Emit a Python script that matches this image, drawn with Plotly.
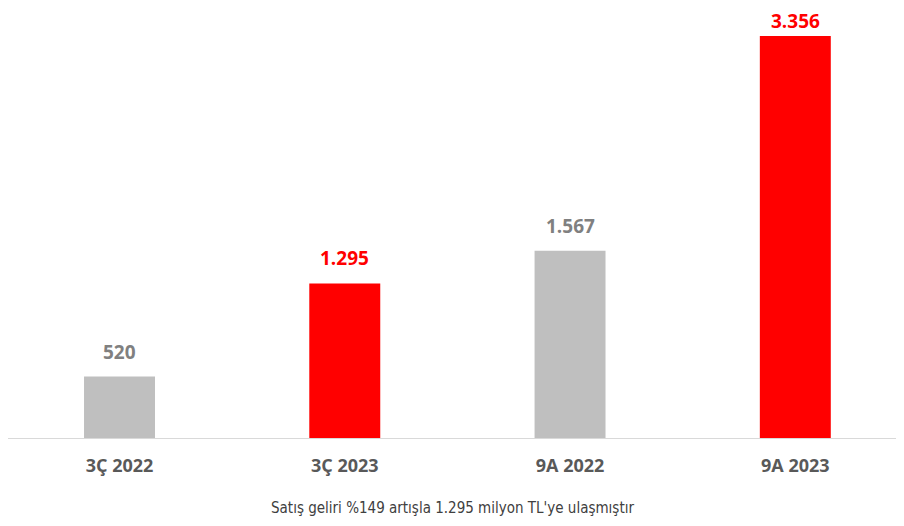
import plotly.graph_objects as go

categories = ["3Ç 2022", "3Ç 2023", "9A 2022", "9A 2023"]
values = [520, 1295, 1567, 3356]
value_labels = ["520", "1.295", "1.567", "3.356"]
bar_colors = ["#bfbfbf", "#ff0000", "#bfbfbf", "#ff0000"]
label_colors = ["#808080", "#ff0000", "#808080", "#ff0000"]
caption = "Satış geliri %149 artışla 1.295 milyon TL'ye ulaşmıştır"

FONT = "Open Sans, Liberation Sans, sans-serif"
xs = list(range(len(categories)))

fig = go.Figure()
fig.add_trace(go.Bar(
    x=xs, y=values,
    marker=dict(color=bar_colors, line=dict(width=0)),
    width=0.315,
    hoverinfo="skip",
))

annotations = []
for x, v, t, c in zip(xs, values, value_labels, label_colors):
    # the tallest label sits closer to its bar so it stays inside the page
    shift = 0 if v == max(values) else 10
    annotations.append(dict(x=x, y=v, xref="x", yref="y", text=t, showarrow=False,
                            yanchor="bottom", yshift=shift,
                            font=dict(family=FONT, size=19, color=c, weight="bold")))
annotations.append(dict(text=caption, xref="paper", yref="paper", x=0.5, y=-0.160, yanchor="middle",
                        xshift=-4, showarrow=False,
                        font=dict(family="Liberation Sans Narrow, DejaVu Sans Condensed, sans-serif",
                                  size=15, color="#404040")))

fig.update_layout(
    width=904, height=526,
    margin=dict(l=0, r=8, t=0, b=95),
    paper_bgcolor="#ffffff", plot_bgcolor="rgba(0,0,0,0)",
    showlegend=False,
    xaxis=dict(range=[-0.495, 3.4825], tickvals=xs, ticktext=categories,
               tickfont=dict(family=FONT, size=18, color="#595959", weight="bold"),
               showgrid=False, zeroline=False, showline=False, ticks="", ticklabelstandoff=14),
    yaxis=dict(range=[0, 3589], visible=False, showgrid=False),
    shapes=[dict(type="line", xref="paper", yref="y", x0=0.0, x1=0.9955, y0=0, y1=0,
                 line=dict(color="#d9d9d9", width=2))],
    annotations=annotations,
)

fig.write_html("out.html")
